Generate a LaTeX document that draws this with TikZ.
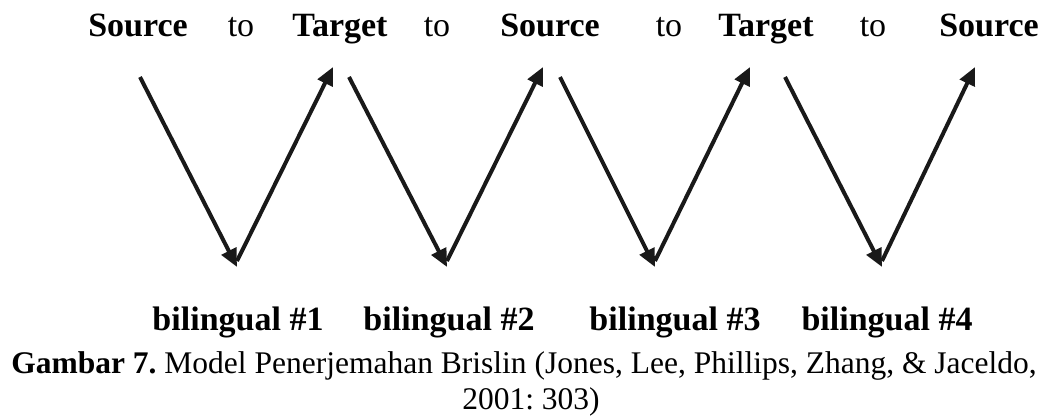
\documentclass[tikz,border=0pt]{standalone}
\usepackage{fontspec}
\setmainfont{Liberation Serif}
\usetikzlibrary{arrows.meta}
\frenchspacing
\begin{document}
\begin{tikzpicture}[x=1bp,y=-1bp,
  lab/.style={anchor=base,inner sep=0pt,font=\fontsize{34bp}{40bp}\selectfont\bfseries},
  tolab/.style={anchor=base,inner sep=0pt,font=\fontsize{34bp}{40bp}\selectfont},
  bil/.style={anchor=base,inner sep=0pt,font=\fontsize{34bp}{40bp}\selectfont\bfseries},
  captext/.style={anchor=base,inner sep=0pt,font=\fontsize{31.5bp}{36bp}\selectfont\frenchspacing},
  arr/.style={line width=4bp,draw=black!90,-{Triangle[length=18bp,width=16bp]}}]
\useasboundingbox (0,0) rectangle (1059,417);
% top labels
\node[lab] (src1) at (138,36) {Source};
\node[tolab] (to1) at (241,36) {to};
\node[lab] (tgt1) at (340,36) {Target};
\node[tolab] (to2) at (437,36) {to};
\node[lab] (src2) at (550,36) {Source};
\node[tolab] (to3) at (669,36) {to};
\node[lab] (tgt2) at (766,36) {Target};
\node[tolab] (to4) at (873,36) {to};
\node[lab] (src3) at (989,36) {Source};
% arrow points
\coordinate (a1) at (140,77); \coordinate (v1) at (237,267); \coordinate (u1) at (333,67);
\coordinate (a2) at (349,77); \coordinate (v2) at (447,267); \coordinate (u2) at (543,67);
\coordinate (a3) at (560,77); \coordinate (v3) at (655,267); \coordinate (u3) at (750,67);
\coordinate (a4) at (785,77); \coordinate (v4) at (882,267); \coordinate (u4) at (975,67);
\foreach \i in {1,2,3,4}{
  \draw[arr] (a\i) -- (v\i);
  \draw[arr] ([yshift=6bp]v\i) -- (u\i);
}
% bilingual labels
\node[bil] (b1) at (238,330) {bilingual \#1};
\node[bil] (b2) at (449,330) {bilingual \#2};
\node[bil] (b3) at (675,330) {bilingual \#3};
\node[bil] (b4) at (887,330) {bilingual \#4};
% caption
\node[captext] (c1) at (524,373) {\textbf{Gambar 7.} Model Penerjemahan Brislin (Jones, Lee, Phillips, Zhang, \& Jaceldo,};
\node[captext] (c2) at (531,409) {2001: 303)};
\end{tikzpicture}
\end{document}
